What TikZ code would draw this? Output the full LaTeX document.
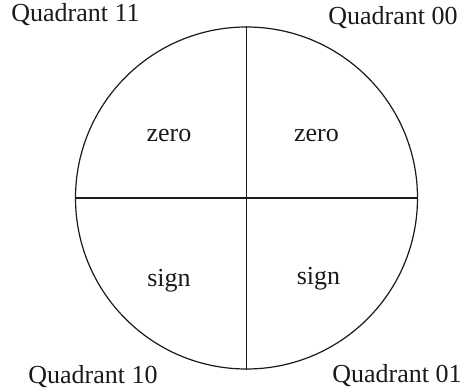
\documentclass[tikz,border=0pt]{standalone}
\usepackage{fontspec}
\setmainfont{Liberation Serif}
\usepackage{tikz}
\usetikzlibrary{positioning}
\definecolor{quadink}{HTML}{1A1A1A}
\tikzset{
  disc/.style={draw=quadink, line width=1.2pt, circle, minimum size=342pt,
               inner sep=0pt},
  axis/.style={draw=quadink, line width=1.2pt},
  quadlabel/.style={font=\fontsize{26}{30}\selectfont, text=quadink,
                    anchor=base, inner sep=0pt},
  cell/.style={font=\fontsize{26}{30}\selectfont, text=quadink,
               anchor=base, inner sep=0pt},
}

\begin{document}
\begin{tikzpicture}[x=1pt,y=-1pt]
\useasboundingbox (0,0) rectangle (466,390);

\node[disc] (c) at (246.5,198) {};

\draw[axis] (c.north) -- (c.south);
\draw[axis] (c.west) -- (c.east);

\node[cell] (z1) at (169,142) {zero};
\node[cell] (z0) at (316.5,142) {zero};
\node[cell] (s1) at (169,287) {sign};
\node[cell] (s0) at (318.5,284) {sign};

\node[quadlabel] (q11) at (75.5,22) {Quadrant 11};
\node[quadlabel] (q00) at (393,25) {Quadrant 00};
\node[quadlabel] (q10) at (93,383) {Quadrant 10};
\node[quadlabel] (q01) at (397,382) {Quadrant 01};

\end{tikzpicture}
\end{document}
